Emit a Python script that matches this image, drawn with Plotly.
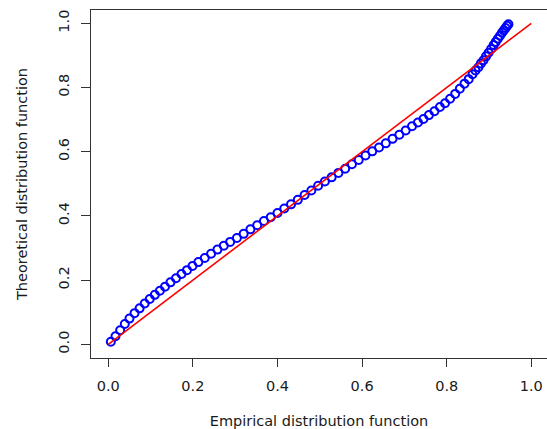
import plotly.graph_objects as go

# Empirical vs theoretical distribution function values (P-P plot)
empirical = [0.006, 0.017, 0.028, 0.039, 0.05, 0.062, 0.074, 0.086, 0.098, 0.11,
             0.122, 0.134, 0.147, 0.16, 0.173, 0.186, 0.199, 0.213, 0.228, 0.243,
             0.258, 0.273, 0.288, 0.304, 0.32, 0.336, 0.352, 0.368, 0.384, 0.4,
             0.416, 0.432, 0.448, 0.464, 0.48, 0.496, 0.512, 0.528, 0.544, 0.56,
             0.576, 0.592, 0.608, 0.624, 0.64, 0.656, 0.672, 0.688, 0.703, 0.718,
             0.732, 0.745, 0.758, 0.771, 0.784, 0.796, 0.808, 0.82, 0.831, 0.842,
             0.852, 0.861, 0.868, 0.875, 0.881, 0.887, 0.893, 0.899, 0.905, 0.911,
             0.916, 0.921, 0.926, 0.931, 0.935, 0.939, 0.943, 0.946]
theoretical = [0.008, 0.025, 0.044, 0.063, 0.080, 0.097, 0.112, 0.127, 0.141, 0.154,
               0.167, 0.179, 0.193, 0.206, 0.219, 0.231, 0.244, 0.256, 0.269, 0.282,
               0.295, 0.307, 0.319, 0.331, 0.344, 0.358, 0.371, 0.384, 0.396, 0.409,
               0.423, 0.436, 0.450, 0.465, 0.479, 0.494, 0.507, 0.520, 0.534, 0.547,
               0.561, 0.574, 0.588, 0.601, 0.613, 0.626, 0.640, 0.653, 0.666, 0.679,
               0.691, 0.702, 0.714, 0.726, 0.739, 0.751, 0.765, 0.780, 0.796, 0.812,
               0.826, 0.841, 0.853, 0.863, 0.875, 0.885, 0.897, 0.908, 0.920, 0.932,
               0.942, 0.952, 0.961, 0.971, 0.978, 0.985, 0.992, 0.997]

# Reference line y = x
ref_x = [0.0, 1.0]
ref_y = [0.0, 1.0]

tick_vals = [0.0, 0.2, 0.4, 0.6, 0.8, 1.0]
tick_text = ["0.0", "0.2", "0.4", "0.6", "0.8", "1.0"]

FONT = "DejaVu Sans, Liberation Sans, Arial, sans-serif"
FS = 14.5
TEXT_COLOR = "#1a1a1a"
AXIS_COLOR = "#333333"

fig = go.Figure()
fig.add_trace(go.Scatter(
    x=empirical, y=theoretical, mode="markers",
    marker=dict(symbol="circle-open", size=8, color="#0000ff",
                line=dict(width=2, color="#0000ff")),
    showlegend=False, hoverinfo="skip"))
fig.add_trace(go.Scatter(
    x=ref_x, y=ref_y, mode="lines",
    line=dict(color="#ff0000", width=1.6),
    showlegend=False, hoverinfo="skip"))

fig.update_layout(
    width=547, height=429,
    margin=dict(l=91, r=0, t=10, b=71),
    paper_bgcolor="white", plot_bgcolor="white",
    font=dict(family=FONT, size=FS, color=TEXT_COLOR),
)
fig.update_xaxes(
    range=[-0.0409, 1.0371],
    tickvals=tick_vals, ticktext=tick_text,
    ticks="outside", ticklen=8, tickwidth=1.2, tickcolor=AXIS_COLOR,
    showline=True, linecolor=AXIS_COLOR, linewidth=1.4, mirror=True,
    showgrid=False, zeroline=False, automargin=False,
    tickfont=dict(size=FS, color=TEXT_COLOR),
    ticklabelstandoff=6,
    title=dict(text="Empirical distribution function", font=dict(size=FS, color=TEXT_COLOR), standoff=24),
)
fig.update_yaxes(
    range=[-0.0427, 1.0414],
    tickvals=tick_vals, ticktext=tick_text,
    ticks="outside", ticklen=9, tickwidth=1.2, tickcolor=AXIS_COLOR,
    showline=True, linecolor=AXIS_COLOR, linewidth=1.4, mirror=False,
    showgrid=False, zeroline=False, automargin=False,
    tickangle=-90,
    tickfont=dict(size=FS, color=TEXT_COLOR),
    ticklabelstandoff=6,
    title=dict(text="Theoretical distribution function", font=dict(size=FS, color=TEXT_COLOR), standoff=24),
)

fig.write_html("out.html")
